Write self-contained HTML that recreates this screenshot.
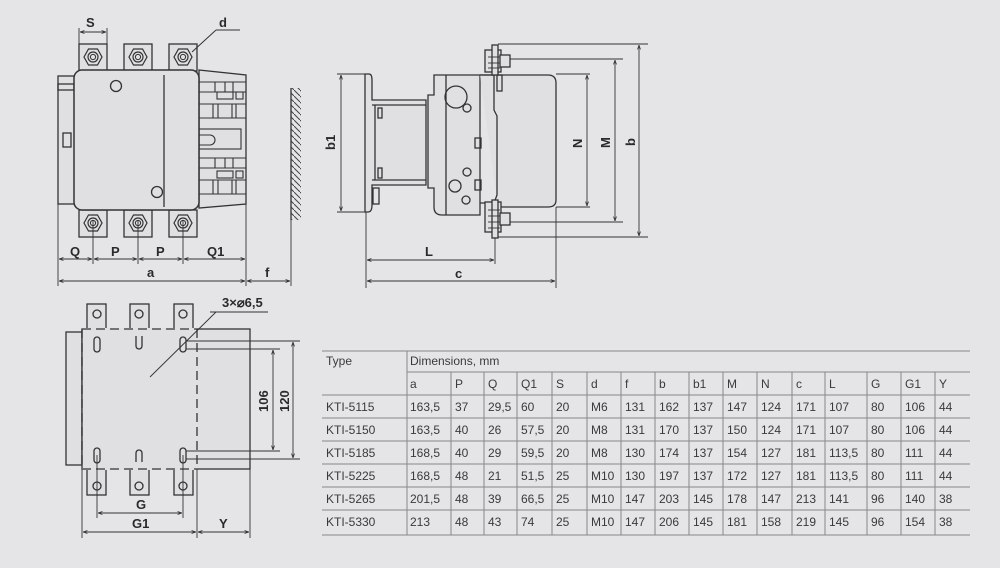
<!DOCTYPE html>
<html><head><meta charset="utf-8"><style>
html,body{margin:0;padding:0;background:#e5e5e8;}
svg{display:block}
text{font-family:"Liberation Sans",sans-serif;fill:#2a2a2a}
.b{font-weight:bold;font-size:13px}
.t{font-size:12px;fill:#3a3a3a}
</style></head><body>
<svg width="1000" height="568" viewBox="0 0 1000 568" xmlns="http://www.w3.org/2000/svg">
<defs>
<marker id="ar" viewBox="0 0 6 6" refX="6" refY="3" markerWidth="5" markerHeight="5" orient="auto-start-reverse"><path d="M0,1 L6,3 L0,5" fill="none" stroke="#333" stroke-width="1"/></marker>
<g id="term"><rect x="-14" y="-13" width="28" height="27" fill="#e0e0e3" stroke="#333" stroke-width="1.3"/><polygon points="-9,0 -4.5,-8 4.5,-8 9,0 4.5,8 -4.5,8" fill="none" stroke="#333" stroke-width="1.2"/><circle r="5" fill="none" stroke="#333" stroke-width="1.2"/><circle r="2.6" fill="none" stroke="#333" stroke-width="1"/></g>
<pattern id="hatch" width="6" height="6" patternUnits="userSpaceOnUse"><path d="M0,0 L6,6" stroke="#444" stroke-width="1"/></pattern>
</defs>
<g stroke="#333" stroke-width="1.3" fill="none">
<!-- FRONT VIEW -->
<rect x="58" y="76" width="17" height="128" fill="#e0e0e3"/>
<rect x="58" y="84" width="16" height="6"/>
<rect x="63" y="133" width="8" height="14"/>
<path d="M199,70 L246,75 L246,204 L199,208 Z" fill="#e0e0e3"/>
<g stroke-width="1.1">
<line x1="199" y1="82" x2="246" y2="82"/><line x1="199" y1="92" x2="246" y2="92"/><line x1="199" y1="104" x2="246" y2="104"/><line x1="199" y1="118" x2="246" y2="118"/>
<line x1="215" y1="82" x2="215" y2="92"/><line x1="225" y1="82" x2="225" y2="92"/><line x1="233" y1="82" x2="233" y2="92"/>
<rect x="217" y="92" width="16" height="7"/><rect x="236" y="92" width="7" height="7"/>
<line x1="213" y1="104" x2="213" y2="118"/><line x1="218" y1="104" x2="218" y2="118"/><line x1="232" y1="104" x2="232" y2="118"/><line x1="236" y1="104" x2="236" y2="118"/>
<rect x="199" y="129" width="42" height="20"/><path d="M199,135 L210,135 A5,5 0 0 1 210,145 L199,145"/>
<line x1="199" y1="158" x2="246" y2="158"/><line x1="199" y1="168" x2="246" y2="168"/><line x1="199" y1="180" x2="246" y2="180"/><line x1="199" y1="194" x2="246" y2="194"/>
<line x1="215" y1="158" x2="215" y2="168"/><line x1="225" y1="158" x2="225" y2="168"/><line x1="233" y1="158" x2="233" y2="168"/>
<rect x="217" y="171" width="16" height="7"/><rect x="236" y="171" width="7" height="7"/>
<line x1="213" y1="180" x2="213" y2="194"/><line x1="218" y1="180" x2="218" y2="194"/><line x1="232" y1="180" x2="232" y2="194"/><line x1="236" y1="180" x2="236" y2="194"/>
</g>
<use href="#term" x="93" y="57"/><use href="#term" x="138" y="57"/><use href="#term" x="183" y="57"/>
<use href="#term" x="93" y="223"/><use href="#term" x="138" y="223"/><use href="#term" x="183" y="223"/>
<rect x="74" y="70" width="125" height="140" rx="8" fill="#e0e0e3" stroke-width="1.5"/>
<line x1="164" y1="75" x2="164" y2="207"/>
<circle cx="116" cy="86" r="5.5"/><circle cx="157" cy="192" r="5.5"/>
<line x1="216" y1="30" x2="240" y2="30" stroke-width="1"/><line x1="216" y1="30" x2="192" y2="52" stroke-width="1"/>
<rect x="291" y="88" width="10" height="132" fill="url(#hatch)" stroke="none"/><line x1="291" y1="88" x2="291" y2="220"/>
<g stroke-width="0.9">
<line x1="79" y1="28" x2="79" y2="44"/><line x1="107" y1="28" x2="107" y2="44"/>
<line x1="80" y1="32" x2="106" y2="32" marker-start="url(#ar)" marker-end="url(#ar)"/>
<line x1="93" y1="220" x2="93" y2="264"/><line x1="138" y1="220" x2="138" y2="264"/><line x1="183" y1="220" x2="183" y2="264"/>
<line x1="58" y1="204" x2="58" y2="286"/><line x1="246" y1="204" x2="246" y2="286"/><line x1="291" y1="220" x2="291" y2="286"/>
<line x1="59" y1="259" x2="92" y2="259" marker-start="url(#ar)" marker-end="url(#ar)"/>
<line x1="94" y1="259" x2="137" y2="259" marker-start="url(#ar)" marker-end="url(#ar)"/>
<line x1="139" y1="259" x2="182" y2="259" marker-start="url(#ar)" marker-end="url(#ar)"/>
<line x1="184" y1="259" x2="245" y2="259" marker-start="url(#ar)" marker-end="url(#ar)"/>
<line x1="59" y1="281" x2="245" y2="281" marker-start="url(#ar)" marker-end="url(#ar)"/>
<line x1="247" y1="281" x2="290" y2="281" marker-start="url(#ar)" marker-end="url(#ar)"/>
</g>
<!-- SIDE VIEW -->
<path d="M365,74 L369,74 Q372,74 372,80 L372,100 L426,100 L426,185 L372,185 L372,205 Q372,212 368,212 L365,212 Z" fill="#e0e0e3"/>
<line x1="372" y1="105" x2="426" y2="105"/><line x1="372" y1="180" x2="426" y2="180"/>
<line x1="375" y1="105" x2="375" y2="180"/>
<rect x="378" y="108" width="4" height="10"/><rect x="378" y="168" width="4" height="10"/>
<rect x="373" y="188" width="6" height="16"/>
<path d="M434,75 L480,75 L480,215 L442,215 Q434,215 434,207 L434,188 L428,188 L428,95 L434,95 Z" fill="#e0e0e3"/>
<line x1="446" y1="75" x2="446" y2="215"/>
<ellipse cx="456" cy="97" rx="11" ry="11"/><circle cx="467" cy="108" r="4"/>
<circle cx="467" cy="172" r="4"/><circle cx="455" cy="186" r="6"/><circle cx="466" cy="200" r="4"/>
<rect x="475" y="138" width="6" height="10"/><rect x="475" y="180" width="6" height="10"/>
<path d="M480,75 L548,75 Q556,75 556,83 L556,200 Q556,207 548,207 L498,207" fill="#e0e0e3"/>
<path d="M480,75 L494,75 L494,110 L497,116 L497,195 L494,203 L480,203"/>
<rect x="497" y="75" width="5" height="16"/>
<g fill="#e0e0e3"><rect x="485" y="50" width="16" height="22"/><rect x="492" y="45" width="6" height="30"/><rect x="500" y="55" width="10" height="12"/>
<rect x="485" y="202" width="16" height="30"/><rect x="492" y="200" width="6" height="38"/><rect x="500" y="213" width="10" height="12"/></g>
<g stroke-width="0.9">
<line x1="488" y1="57" x2="500" y2="57"/><line x1="488" y1="63" x2="500" y2="63"/><line x1="488" y1="68" x2="500" y2="68"/>
<line x1="488" y1="210" x2="500" y2="210"/><line x1="488" y1="216" x2="500" y2="216"/><line x1="488" y1="222" x2="500" y2="222"/><line x1="488" y1="228" x2="500" y2="228"/>
<line x1="337" y1="74" x2="365" y2="74"/><line x1="337" y1="212" x2="365" y2="212"/>
<line x1="341" y1="75" x2="341" y2="211" marker-start="url(#ar)" marker-end="url(#ar)"/>
<line x1="498" y1="44" x2="648" y2="44"/><line x1="510" y1="59" x2="623" y2="59"/><line x1="556" y1="74" x2="590" y2="74"/>
<line x1="556" y1="207" x2="590" y2="207"/><line x1="510" y1="222" x2="623" y2="222"/><line x1="498" y1="237" x2="648" y2="237"/>
<line x1="587" y1="75" x2="587" y2="206" marker-start="url(#ar)" marker-end="url(#ar)"/>
<line x1="615" y1="60" x2="615" y2="221" marker-start="url(#ar)" marker-end="url(#ar)"/>
<line x1="639" y1="45" x2="639" y2="236" marker-start="url(#ar)" marker-end="url(#ar)"/>
<line x1="366" y1="212" x2="366" y2="288"/><line x1="556" y1="207" x2="556" y2="288"/><line x1="495" y1="238" x2="495" y2="264"/>
<line x1="367" y1="260" x2="494" y2="260" marker-start="url(#ar)" marker-end="url(#ar)"/>
<line x1="367" y1="281" x2="555" y2="281" marker-start="url(#ar)" marker-end="url(#ar)"/>
</g>
<!-- BOTTOM VIEW -->
<rect x="66" y="332" width="16" height="133" fill="#e0e0e3"/>
<rect x="82" y="329" width="168" height="140" fill="#e0e0e3"/>
<g fill="#e0e0e3">
<rect x="87" y="304" width="19" height="25"/><rect x="130" y="304" width="19" height="25"/><rect x="174" y="304" width="19" height="25"/>
<rect x="87" y="469" width="19" height="26"/><rect x="130" y="469" width="19" height="26"/><rect x="174" y="469" width="19" height="26"/></g>
<circle cx="97" cy="314" r="4"/><circle cx="139" cy="314" r="4"/><circle cx="183" cy="314" r="4"/>
<circle cx="97" cy="486" r="4"/><circle cx="139" cy="486" r="4"/><circle cx="183" cy="486" r="4"/>
<line x1="82" y1="329" x2="197" y2="329" stroke="#e0e0e3" stroke-width="2"/>
<line x1="82" y1="469" x2="197" y2="469" stroke="#e0e0e3" stroke-width="2"/>
<g stroke-dasharray="9,5">
<line x1="82" y1="329" x2="197" y2="329"/><line x1="82" y1="469" x2="197" y2="469"/>
<line x1="82" y1="329" x2="82" y2="469"/><line x1="197" y1="329" x2="197" y2="469"/></g>
<rect x="94" y="337" width="6" height="15" rx="3"/><rect x="180" y="337" width="6" height="15" rx="3"/>
<rect x="94" y="448" width="6" height="15" rx="3"/><rect x="180" y="448" width="6" height="15" rx="3"/>
<path d="M136,336 L136,346 A3,3 0 0 0 142,346 L142,336"/><path d="M136,462 L136,453 A3,3 0 0 1 142,453 L142,462"/>
<g stroke-width="0.9">
<line x1="210" y1="312" x2="268" y2="312"/><line x1="216" y1="312" x2="150" y2="377"/>
<line x1="186" y1="341" x2="300" y2="341"/><line x1="186" y1="349" x2="280" y2="349"/>
<line x1="186" y1="451" x2="280" y2="451"/><line x1="186" y1="459" x2="300" y2="459"/>
<line x1="273" y1="350" x2="273" y2="450" marker-start="url(#ar)" marker-end="url(#ar)"/>
<line x1="293" y1="342" x2="293" y2="458" marker-start="url(#ar)" marker-end="url(#ar)"/>
<line x1="97" y1="455" x2="97" y2="518"/><line x1="183" y1="455" x2="183" y2="518"/>
<line x1="82" y1="469" x2="82" y2="538"/><line x1="197" y1="469" x2="197" y2="538"/><line x1="250" y1="469" x2="250" y2="538"/>
<line x1="98" y1="513" x2="182" y2="513" marker-start="url(#ar)" marker-end="url(#ar)"/>
<line x1="83" y1="532" x2="196" y2="532" marker-start="url(#ar)" marker-end="url(#ar)"/>
<line x1="198" y1="532" x2="249" y2="532" marker-start="url(#ar)" marker-end="url(#ar)"/>
</g>
</g>
<!-- labels -->
<text class="b" x="86" y="27">S</text>
<text class="b" x="219" y="27">d</text>
<text class="b" x="70" y="256">Q</text><text class="b" x="111" y="256">P</text><text class="b" x="156" y="256">P</text><text class="b" x="207" y="256">Q1</text>
<text class="b" x="147" y="277">a</text><text class="b" x="265" y="277">f</text>
<text class="b" transform="translate(335,150) rotate(-90)">b1</text>
<text class="b" transform="translate(582,148) rotate(-90)">N</text>
<text class="b" transform="translate(610,148) rotate(-90)">M</text>
<text class="b" transform="translate(635,146) rotate(-90)">b</text>
<text class="b" x="425" y="256">L</text><text class="b" x="455" y="278">c</text>
<text class="b" x="222" y="307">3×⌀6,5</text>
<text class="b" transform="translate(268,412) rotate(-90)">106</text>
<text class="b" transform="translate(289,412) rotate(-90)">120</text>
<text class="b" x="136" y="509">G</text><text class="b" x="132" y="528">G1</text><text class="b" x="219" y="528">Y</text>
<!-- TABLE -->
<g stroke="#888" stroke-width="1">
<line x1="322" y1="351" x2="970" y2="351"/>
<line x1="407" y1="372" x2="970" y2="372"/>
<line x1="322" y1="395" x2="970" y2="395"/>
<line x1="322" y1="418" x2="970" y2="418"/>
<line x1="322" y1="441" x2="970" y2="441"/>
<line x1="322" y1="464" x2="970" y2="464"/>
<line x1="322" y1="487" x2="970" y2="487"/>
<line x1="322" y1="510" x2="970" y2="510"/>
<line x1="322" y1="535" x2="970" y2="535"/>
<line x1="407" y1="351" x2="407" y2="535"/>
<g>
<line x1="451" y1="372" x2="451" y2="535"/><line x1="484" y1="372" x2="484" y2="535"/><line x1="517" y1="372" x2="517" y2="535"/><line x1="552" y1="372" x2="552" y2="535"/><line x1="587" y1="372" x2="587" y2="535"/><line x1="621" y1="372" x2="621" y2="535"/><line x1="655" y1="372" x2="655" y2="535"/><line x1="689" y1="372" x2="689" y2="535"/><line x1="723" y1="372" x2="723" y2="535"/><line x1="757" y1="372" x2="757" y2="535"/><line x1="792" y1="372" x2="792" y2="535"/><line x1="825" y1="372" x2="825" y2="535"/><line x1="867" y1="372" x2="867" y2="535"/><line x1="901" y1="372" x2="901" y2="535"/><line x1="935" y1="372" x2="935" y2="535"/>
</g></g>
<g class="t">
<text class="t" x="326" y="365">Type</text><text class="t" x="410" y="365">Dimensions, mm</text>
<text class="t" y="388"><tspan x="410">a</tspan><tspan x="455">P</tspan><tspan x="488">Q</tspan><tspan x="521">Q1</tspan><tspan x="556">S</tspan><tspan x="591">d</tspan><tspan x="625">f</tspan><tspan x="659">b</tspan><tspan x="693">b1</tspan><tspan x="727">M</tspan><tspan x="761">N</tspan><tspan x="796">c</tspan><tspan x="829">L</tspan><tspan x="871">G</tspan><tspan x="905">G1</tspan><tspan x="939">Y</tspan></text>
<text class="t" y="411"><tspan x="326">KTI-5115</tspan><tspan x="410">163,5</tspan><tspan x="455">37</tspan><tspan x="488">29,5</tspan><tspan x="521">60</tspan><tspan x="556">20</tspan><tspan x="591">M6</tspan><tspan x="625">131</tspan><tspan x="659">162</tspan><tspan x="693">137</tspan><tspan x="727">147</tspan><tspan x="761">124</tspan><tspan x="796">171</tspan><tspan x="829">107</tspan><tspan x="871">80</tspan><tspan x="905">106</tspan><tspan x="939">44</tspan></text>
<text class="t" y="434"><tspan x="326">KTI-5150</tspan><tspan x="410">163,5</tspan><tspan x="455">40</tspan><tspan x="488">26</tspan><tspan x="521">57,5</tspan><tspan x="556">20</tspan><tspan x="591">M8</tspan><tspan x="625">131</tspan><tspan x="659">170</tspan><tspan x="693">137</tspan><tspan x="727">150</tspan><tspan x="761">124</tspan><tspan x="796">171</tspan><tspan x="829">107</tspan><tspan x="871">80</tspan><tspan x="905">106</tspan><tspan x="939">44</tspan></text>
<text class="t" y="457"><tspan x="326">KTI-5185</tspan><tspan x="410">168,5</tspan><tspan x="455">40</tspan><tspan x="488">29</tspan><tspan x="521">59,5</tspan><tspan x="556">20</tspan><tspan x="591">M8</tspan><tspan x="625">130</tspan><tspan x="659">174</tspan><tspan x="693">137</tspan><tspan x="727">154</tspan><tspan x="761">127</tspan><tspan x="796">181</tspan><tspan x="829">113,5</tspan><tspan x="871">80</tspan><tspan x="905">111</tspan><tspan x="939">44</tspan></text>
<text class="t" y="480"><tspan x="326">KTI-5225</tspan><tspan x="410">168,5</tspan><tspan x="455">48</tspan><tspan x="488">21</tspan><tspan x="521">51,5</tspan><tspan x="556">25</tspan><tspan x="591">M10</tspan><tspan x="625">130</tspan><tspan x="659">197</tspan><tspan x="693">137</tspan><tspan x="727">172</tspan><tspan x="761">127</tspan><tspan x="796">181</tspan><tspan x="829">113,5</tspan><tspan x="871">80</tspan><tspan x="905">111</tspan><tspan x="939">44</tspan></text>
<text class="t" y="503"><tspan x="326">KTI-5265</tspan><tspan x="410">201,5</tspan><tspan x="455">48</tspan><tspan x="488">39</tspan><tspan x="521">66,5</tspan><tspan x="556">25</tspan><tspan x="591">M10</tspan><tspan x="625">147</tspan><tspan x="659">203</tspan><tspan x="693">145</tspan><tspan x="727">178</tspan><tspan x="761">147</tspan><tspan x="796">213</tspan><tspan x="829">141</tspan><tspan x="871">96</tspan><tspan x="905">140</tspan><tspan x="939">38</tspan></text>
<text class="t" y="526"><tspan x="326">KTI-5330</tspan><tspan x="410">213</tspan><tspan x="455">48</tspan><tspan x="488">43</tspan><tspan x="521">74</tspan><tspan x="556">25</tspan><tspan x="591">M10</tspan><tspan x="625">147</tspan><tspan x="659">206</tspan><tspan x="693">145</tspan><tspan x="727">181</tspan><tspan x="761">158</tspan><tspan x="796">219</tspan><tspan x="829">145</tspan><tspan x="871">96</tspan><tspan x="905">154</tspan><tspan x="939">38</tspan></text>
</g>
</svg>
</body></html>
